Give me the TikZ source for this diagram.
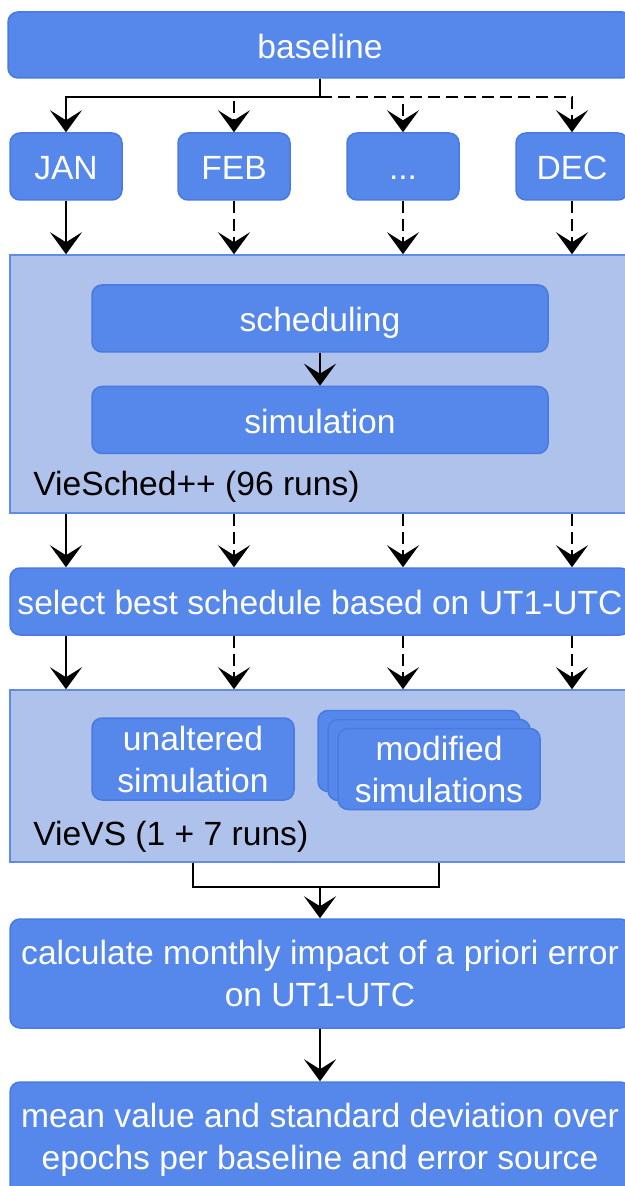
\documentclass[tikz,border=0pt]{standalone}
\usepackage{fontspec}
\setmainfont{Liberation Sans}
\usetikzlibrary{arrows.meta, positioning}
\definecolor{stepcolor}{RGB}{85,136,234}
\definecolor{stepedge}{RGB}{72,122,224}
\definecolor{groupcolor}{RGB}{175,194,236}
\definecolor{groupedge}{RGB}{96,140,232}

\begin{document}
\begin{tikzpicture}[
    x=0.5pt, y=-0.5pt,
    font=\fontsize{16.8}{21}\selectfont,
    stepbox/.style={draw=stepedge, line width=0.75pt, fill=stepcolor, text=white, rounded corners=5pt, minimum width=#1, minimum height=33.5pt, inner sep=2pt, align=center},
    oneline/.style={text height=17.44pt, text depth=4pt},
    group/.style={draw=groupedge, line width=0.75pt, fill=groupcolor, minimum width=310pt, minimum height=#1, inner sep=0pt},
    grouplabel/.style={anchor=base west, inner sep=0pt},
    flow/.style={line width=1.3pt, -{Stealth[length=11pt, width=16pt, inset=5pt]}},
    flowdash/.style={flow, dash pattern=on 6pt off 3pt}
]
    \useasboundingbox (0,0) rectangle (625,1186);
    \clip (0,0) rectangle (625,1186);

    % Input
    \node[stepbox=312pt, oneline, minimum height=33pt] (baseline) at (320,45) {baseline};

    % Months
    \node[stepbox=56pt, oneline] (jan) at (66,166.5) {JAN};
    \node[stepbox=56pt, oneline] (feb) at (234,166.5) {FEB};
    \node[stepbox=56pt, oneline] (dots) at (403,166.5) {...};
    \node[stepbox=56pt, oneline] (dec) at (572,166.5) {DEC};

    % VieSched++
    \node[group=129pt] (viesched) at (320,384) {};
    \node[stepbox=228pt, oneline] (sched) at (320,318.5) {scheduling};
    \node[stepbox=228pt, oneline] (sim) at (320,420) {simulation};
    \node[grouplabel] (vieschedlabel) at (33,495) {VieSched++ (96 runs)};

    % Selection
    \node[stepbox=310pt, oneline] (select) at (320,601.5) {select best schedule based on UT1-UTC};

    % VieVS
    \node[group=86pt] (vievs) at (320,776) {};
    \node[stepbox=101pt, minimum height=41pt] (unaltered) at (193,759) {unaltered\\simulation};
    \node[stepbox=101pt, minimum height=40.5pt] (modback) at (419,751) {};
    \node[stepbox=101pt, minimum height=40.5pt] (modmid) at (429,760) {};
    \node[stepbox=101pt, minimum height=40.5pt] (modfront) at (439,769) {modified\\simulations};
    \node[grouplabel] (vievslabel) at (33,845) {VieVS (1 + 7 runs)};

    % Results
    \node[stepbox=310pt, minimum height=54.5pt] (calc) at (320,973.5) {calculate monthly impact of a priori error\\on UT1-UTC};
    \node[stepbox=310pt, minimum height=58pt] (mean) at (320,1140) {mean value and standard deviation over\\epochs per baseline and error source};

    % Connections
    \coordinate (split) at (320,97);
    \draw[line width=1.3pt] (baseline.south) -- (split);
    \draw[flow] (split) -| (jan.north);
    \draw[flowdash] (split) -| (feb.north);
    \draw[flowdash] (split) -| (dots.north);
    \draw[flowdash] (split) -| (dec.north);

    \draw[flow] (jan.south) -- (jan.south |- viesched.north);
    \draw[flowdash] (feb.south) -- (feb.south |- viesched.north);
    \draw[flowdash] (dots.south) -- (dots.south |- viesched.north);
    \draw[flowdash] (dec.south) -- (dec.south |- viesched.north);

    \draw[flow] (sched) -- (sim);

    \draw[flow] (jan.south |- viesched.south) -- (jan.south |- select.north);
    \draw[flowdash] (feb.south |- viesched.south) -- (feb.south |- select.north);
    \draw[flowdash] (dots.south |- viesched.south) -- (dots.south |- select.north);
    \draw[flowdash] (dec.south |- viesched.south) -- (dec.south |- select.north);

    \draw[flow] (jan.south |- select.south) -- (jan.south |- vievs.north);
    \draw[flowdash] (feb.south |- select.south) -- (feb.south |- vievs.north);
    \draw[flowdash] (dots.south |- select.south) -- (dots.south |- vievs.north);
    \draw[flowdash] (dec.south |- select.south) -- (dec.south |- vievs.north);

    \coordinate (merge) at (320,887);
    \draw[line width=1.3pt] (unaltered.south |- vievs.south) |- (modfront.south |- merge) -- (modfront.south |- vievs.south);
    \draw[flow] (merge) -- (calc.north);
    \draw[flow] (calc) -- (mean);
\end{tikzpicture}
\end{document}
